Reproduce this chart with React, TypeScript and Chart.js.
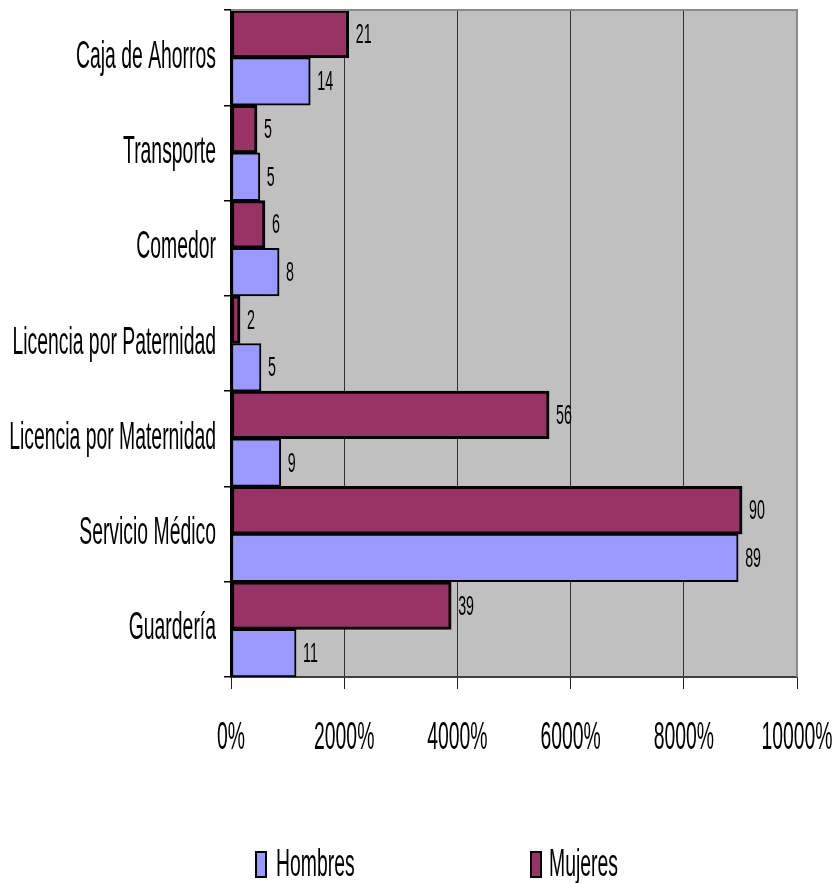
import React, { useEffect, useRef } from "react";
import { Chart, registerables } from "chart.js";

Chart.register(...registerables);

const categories = [
  "Caja de Ahorros",
  "Transporte",
  "Comedor",
  "Licencia por Paternidad",
  "Licencia por Maternidad",
  "Servicio Médico",
  "Guardería",
];
const mujeres = [20.8, 4.6, 6.0, 1.6, 56.2, 90.3, 38.9];
const hombres = [14.0, 5.1, 8.5, 5.3, 8.8, 89.6, 11.5];
const mujeresLabels = ["21", "5", "6", "2", "56", "90", "39"];
const hombresLabels = ["14", "5", "8", "5", "9", "89", "11"];
const xMin = 0;
const xMax = 100;
const xStep = 20;
const legendNames = ["Hombres", "Mujeres"];

const MUJ = "#993366";
const HOM = "#9999FF";
const FONT = '"Liberation Sans", Arial, sans-serif';
const SX = 0.51;

function squeezed(
  ctx: CanvasRenderingContext2D,
  text: string,
  x: number,
  y: number,
  size: number,
  align: CanvasTextAlign
) {
  ctx.save();
  ctx.font = `${size}px ${FONT}`;
  ctx.textBaseline = "alphabetic";
  ctx.textAlign = align;
  ctx.fillStyle = "#000";
  ctx.translate(x, y);
  ctx.scale(SX, 1);
  ctx.fillText(text, 0, 0);
  ctx.restore();
}

const decor = {
  id: "decor",
  beforeDraw(chart: any) {
    const { ctx, chartArea: a } = chart;
    ctx.save();
    ctx.fillStyle = "#C0C0C0";
    ctx.fillRect(a.left, a.top, a.right - a.left, a.bottom - a.top);
    ctx.restore();
  },
  afterDraw(chart: any) {
    const { ctx, chartArea: a } = chart;
    ctx.save();
    ctx.strokeStyle = "#8a8a8a";
    ctx.lineWidth = 2;
    ctx.beginPath();
    ctx.moveTo(a.left, a.top);
    ctx.lineTo(a.right, a.top);
    ctx.lineTo(a.right, a.bottom);
    ctx.stroke();
    ctx.restore();

    // y labels
    const ys = chart.scales.y;
    categories.forEach((c, i) => {
      const py = ys.getPixelForValue(i);
      squeezed(ctx, c, 216, py + 10, 38, "right");
    });
    // x labels
    const xs = chart.scales.x;
    for (let v = xMin; v <= xMax; v += xStep) {
      squeezed(ctx, `${v * 100}%`, xs.getPixelForValue(v), 749, 38, "center");
    }
    // data labels
    const sets = [mujeresLabels, hombresLabels];
    sets.forEach((labels, di) => {
      const meta = chart.getDatasetMeta(di);
      meta.data.forEach((el: any, i: number) => {
        squeezed(ctx, labels[i], el.x + 7, el.y + 9, 28, "left");
      });
    });
    // legend
    const items = [
      { name: legendNames[0], color: HOM, bx: 256, tx: 276 },
      { name: legendNames[1], color: MUJ, bx: 531, tx: 549 },
    ];
    items.forEach((it) => {
      ctx.save();
      ctx.fillStyle = it.color;
      ctx.strokeStyle = "#000";
      ctx.lineWidth = 2;
      ctx.fillRect(it.bx, 852, 10, 25);
      ctx.strokeRect(it.bx, 852, 10, 25);
      ctx.restore();
      squeezed(ctx, it.name, it.tx, 876, 38, "left");
    });
  },
};

export default function App() {
  const ref = useRef<HTMLCanvasElement | null>(null);
  useEffect(() => {
    if (!ref.current) return;
    const chart = new Chart(ref.current, {
      type: "bar",
      data: {
        labels: categories,
        datasets: [
          {
            label: "Mujeres",
            data: mujeres,
            backgroundColor: MUJ,
            borderColor: "#000",
            borderWidth: 3,
            borderSkipped: false,
          },
          {
            label: "Hombres",
            data: hombres,
            backgroundColor: HOM,
            borderColor: "#000",
            borderWidth: 2,
            borderSkipped: false,
          },
        ],
      },
      options: {
        indexAxis: "y",
        animation: false,
        responsive: true,
        maintainAspectRatio: false,
        layout: { padding: { top: 10, right: 37, bottom: 176, left: 0 } },
        datasets: { bar: { categoryPercentage: 1, barPercentage: 1 } },
        plugins: {
          legend: { display: false },
          tooltip: { enabled: false },
        },
        scales: {
          x: {
            min: xMin,
            max: xMax,
            ticks: { stepSize: xStep, display: false },
            grid: {
              color: "#303030",
              lineWidth: 1,
              drawTicks: true,
              tickLength: 12,
              tickColor: "#202020",
            },
            border: { display: true, color: "#404040", width: 2 },
            afterFit: (s: any) => {
              s.height = 30;
              s.paddingLeft = 0;
              s.paddingRight = 0;
            },
          },
          y: {
            ticks: { display: false },
            grid: {
              offset: true,
              drawOnChartArea: false,
              drawTicks: true,
              tickLength: 7,
              tickColor: "#000",
              lineWidth: 1.5,
            },
            border: { display: true, color: "#000", width: 2 },
            afterFit: (s: any) => {
              s.width = 231;
              s.paddingTop = 0;
              s.paddingBottom = 0;
            },
          },
        },
      },
      plugins: [decor],
    });
    return () => chart.destroy();
  }, []);
  return (
    <div style={{ position: "absolute", left: 0, top: 0, width: 834, height: 883 }}>
      <canvas ref={ref} />
    </div>
  );
}
